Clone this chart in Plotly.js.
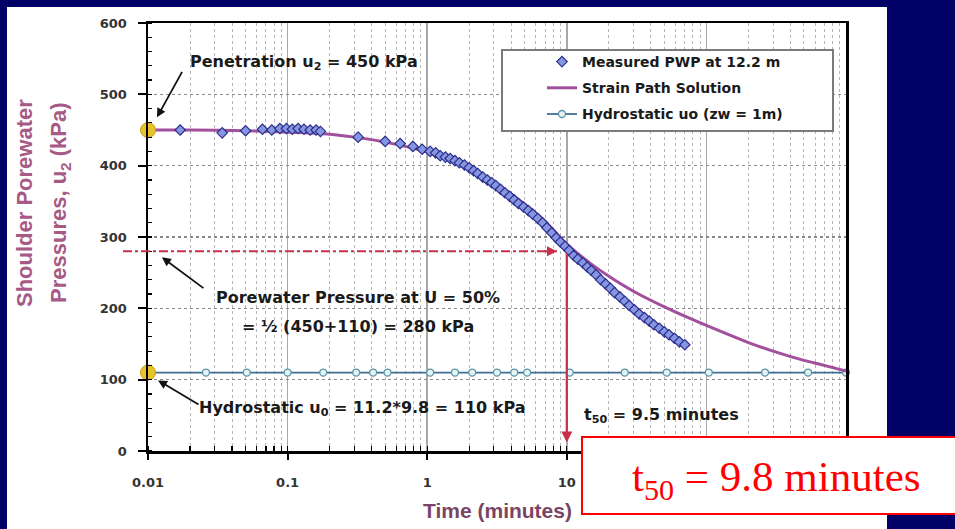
<!DOCTYPE html>
<html><head><meta charset="utf-8">
<script src="https://cdn.plot.ly/plotly-3.0.1.min.js"></script>
<style>html,body{margin:0;padding:0;background:#000066;}#chart{width:955px;height:529px;}</style>
</head><body><div id="chart"></div>
<script>
// Measured porewater pressure at 12.2 m
const measTime = [0.017,0.034,0.05,0.066,0.077,0.088,0.098,0.108,0.119,0.131,0.145,0.16,0.172,
  0.32,0.5,0.64,0.79,0.92,1.05,1.15,1.24,1.35,1.46,1.58,1.7,1.85,2.0,2.15,2.3,2.5,2.7,2.9,
  3.1,3.35,3.6,3.9,4.2,4.5,4.9,5.3,5.7,6.2,6.7,7.2,7.8,8.4,9.0,9.7,10.4,11.2,12,13,14,15,
  16.2,17.5,19,20.5,22,24,26,28,30.5,33,36,39,42,46,50,54,59,64,70];
const measPWP = [450,446,449,451,450,452,452,451,452,451,450,450,448,
  440,434,431,427,423,420,418,414,412,410,407,404,401,397,393,389,384,380,376,
  372,367,362,357,352,347,342,337,332,326,320,313,306,299,293,287,281,274,269,264,258,253,
  247,240,234,228,222,216,210,204,198,192,187,182,177,172,167,163,158,153,149];
// Strain path solution
const strainTime = [0.01,0.02,0.05,0.1,0.2,0.3,0.5,1,2,3,5,7,10,15,20,30,50,70,100,200,300,500,700,1000];
const strainPWP = [450,450,449,447,444,440,433,419,396,376,346,322,290,262,245,224,202,189,176,152,140,127,120,112];
// Hydrostatic
const hydroTime = [0.01,0.026,0.051,0.1,0.18,0.31,0.41,0.52,1.05,1.58,2.1,3.16,4.2,5.2,10.5,26,52,104,263,535,1000];
const hydroPWP = [110,110,110,110,110,110,110,110,110,110,110,110,110,110,110,110,110,110,110,110,110];
// Key points
const keyTime = [0.01,0.01];
const keyPWP = [450,110];
const xTickVals = [0.01,0.1,1,10,100,1000];
const xTickText = ['0.01','0.1','1','10','',''];

const F = 'DejaVu Sans, sans-serif';
const traces = [
  {x: hydroTime, y: hydroPWP, type:'scatter', mode:'lines+markers', name:'Hydrostatic uo (zw = 1m)',
   line:{color:'#3f6f92', width:1.8}, marker:{symbol:'circle', size:7, color:'#e4f4f4', line:{color:'#5b94a8', width:1.3}},
   legendgroup:'c', legendrank:3, cliponaxis:false},
  {x: strainTime, y: strainPWP, type:'scatter', mode:'lines', name:'Strain Path Solution',
   line:{color:'#a24f9e', width:3, shape:'spline', smoothing:0.8}, legendgroup:'b', legendrank:2},
  {x: measTime, y: measPWP, type:'scatter', mode:'markers', name:'Measured PWP at 12.2 m',
   marker:{symbol:'diamond', size:8, color:'#8796e2', line:{color:'#2c2f8a', width:1.2}},
   legendgroup:'a', legendrank:1},
  {x: keyTime, y: keyPWP, type:'scatter', mode:'markers', showlegend:false, cliponaxis:false,
   marker:{symbol:'circle', size:15, color:'#e9c429', line:{color:'#c9a010', width:1}}}
];

const ann = [];
function txt(x,y,t,o){ ann.push(Object.assign({x:x,y:y,xref:'x',yref:'y',text:t,showarrow:false,
  xanchor:'center',yanchor:'middle',
  font:{family:F,size:16,color:'#1a1a1a',weight:'bold'}},o||{})); }
function arr(x,y,ax,ay,o){ ann.push(Object.assign({x:x,y:y,xref:'x',yref:'y',text:'',showarrow:true,
  ax:ax,ay:ay,arrowhead:2,arrowsize:1,arrowwidth:1.8,arrowcolor:'#111',standoff:0,startstandoff:0},o||{})); }

txt(-0.8825,545,'Penetration u<sub>2</sub> = 450 kPa');
arr(-1.936,467.7,26,-47);
txt(-0.496,215,'Porewater Pressure at U = 50%');
txt(-0.496,174,'= ½ (450+110) = 280 kPa');
arr(-1.90,271.6,43,32);
txt(-0.467,60,'Hydrostatic u<sub>0</sub> = 11.2*9.8 = 110 kPa');
arr(-1.928,99,42,25);
txt(1.675,50,'t<sub>50</sub> = 9.5 minutes');
// dash-dot arrow head
arr(0.93,280,-14,0,{arrowcolor:'#c8304a',arrowwidth:2});
// vertical t50 arrow
arr(1,12,1,280,{axref:'x',ayref:'y',arrowcolor:'#c8304a',arrowwidth:2.2});
// axis titles
const TF = 'Liberation Sans, Arial, sans-serif';
ann.push({xref:'paper',yref:'paper',x:(24-148)/698,y:(451-203)/428,xanchor:'center',yanchor:'middle',
  text:'Shoulder Porewater',textangle:-90,showarrow:false,font:{family:TF,size:22,color:'#a65a85',weight:'bold'}});
ann.push({xref:'paper',yref:'paper',x:(60-148)/698,y:(451-203)/428,xanchor:'center',yanchor:'middle',
  text:'Pressures, u<sub>2</sub> (kPa)',textangle:-90,showarrow:false,font:{family:TF,size:22,color:'#a65a85',weight:'bold'}});
ann.push({xref:'paper',yref:'paper',x:(497-148)/698,y:(451-511)/428,xanchor:'center',yanchor:'middle',
  text:'Time (minutes)',showarrow:false,font:{family:TF,size:21,color:'#7a4565',weight:'bold'}});
// red box text
ann.push({xref:'paper',yref:'paper',x:(776-148)/698,y:(451-480)/428,xanchor:'center',yanchor:'middle',
  text:'t<sub>50</sub> = 9.8 minutes',showarrow:false,
  font:{family:'Liberation Serif, Times New Roman, serif',size:43,color:'#ff0000'}});

const shapes = [
  {type:'rect',xref:'paper',yref:'paper',x0:(7-148)/698,x1:(887-148)/698,y0:-0.2,y1:(451-7)/428,
   fillcolor:'#ffffff',line:{width:0},layer:'below'},
  {type:'line',xref:'paper',yref:'paper',x0:(123-148)/698,x1:(0.93+2)/5,y0:280/600,y1:280/600,
   line:{color:'#c8304a',width:2.2,dash:'dashdot'},layer:'above'},
  {type:'rect',xref:'paper',yref:'paper',x0:(502-148)/698,x1:(833-148)/698,y0:(451-131)/428,y1:(451-50)/428,
   fillcolor:'#ffffff',line:{color:'#7a7a7a',width:2},layer:'above'},
  {type:'rect',xref:'paper',yref:'paper',x0:(582-148)/698,x1:(962-148)/698,y0:(451-514)/428,y1:(451-437)/428,
   fillcolor:'#ffffff',line:{color:'#ff0000',width:2},layer:'above'}
];

const layout = {
  width:955, height:529, margin:{l:148,r:109,t:23,b:78},
  paper_bgcolor:'#000066', plot_bgcolor:'rgba(0,0,0,0)',
  font:{family:F,color:'#222'},
  showlegend:true,
  legend:{x:(542-148)/698,xanchor:'left',y:(451-46)/428,yanchor:'top',bgcolor:'rgba(0,0,0,0)',borderwidth:0,
    font:{family:F,size:14,color:'#1a1a1a',weight:'bold'},tracegroupgap:5,traceorder:'grouped'},
  xaxis:{type:'log',range:[-2,3],tickmode:'array',tickvals:xTickVals,ticktext:xTickText,
    ticks:'outside',ticklen:6,tickwidth:2,tickcolor:'#000',ticklabelstandoff:12,
    tickfont:{family:F,size:13,color:'#333',weight:'bold'},
    showgrid:true,gridcolor:'#a8a8a8',gridwidth:1.6,
    showline:true,linecolor:'#000',linewidth:2.5,mirror:true,zeroline:false,
    minor:{dtick:'D1',ticks:'inside',ticklen:5,tickwidth:1.2,tickcolor:'#000',showgrid:true,griddash:'dot',gridcolor:'#b5b5b5',gridwidth:1}},
  yaxis:{range:[0,600],dtick:100,ticks:'outside',ticklen:8,tickwidth:2,tickcolor:'#000',ticklabelstandoff:8,
    tickfont:{family:F,size:13,color:'#333',weight:'bold'},
    showgrid:true,griddash:'dot',gridcolor:'#8a8a8a',gridwidth:1.2,
    showline:true,linecolor:'#000',linewidth:2.5,mirror:true,zeroline:false,
    minor:{dtick:20,ticks:'inside',ticklen:4,tickwidth:1.2,tickcolor:'#000',showgrid:false}},
  annotations:ann, shapes:shapes
};
Plotly.newPlot('chart',traces,layout,{staticPlot:true});
</script></body></html>
